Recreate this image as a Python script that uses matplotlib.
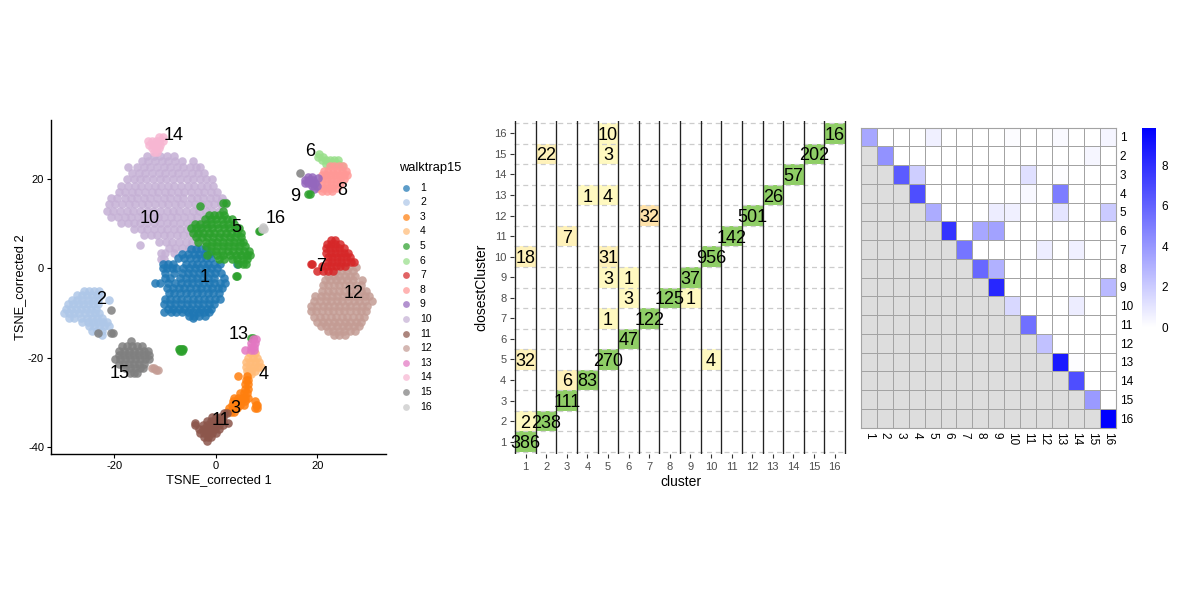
"""
Recria a figura: TSNE por cluster, tabela closestCluster x cluster e heatmap.
"""

import matplotlib
matplotlib.use('Agg')
import matplotlib.pyplot as plt
import numpy as np
from matplotlib.colors import LinearSegmentedColormap

plt.rcParams['font.family'] = ['Liberation Sans', 'DejaVu Sans']
plt.rcParams['axes.unicode_minus'] = False

# ── Dados do TSNE: (y, [x, x, ...]) ────────────────────────────
C10 = [
    (25.3, [-13.5, -12.2, -11, -9.7, -8.2]),
    (24.1, [-14.6, -13.3, -12, -10.6, -9.4, -8, -6.6, -4.6]),
    (22.8, [-17.3, -15.6, -14.2, -12.9, -11.7, -10.3, -9, -7.7, -6.4, -5.2, -3.9, -3.1]),
    (21.4, [-16.6, -15.2, -14, -12.6, -11.3, -10, -8.7, -7.4, -6.1, -4.8, -3.5, -2.4]),
    (20, [-17.6, -16.2, -15, -13.7, -12.4, -11, -9.8, -8.4, -7.1, -5.8, -4.5, -3.2, -2, -0.8]),
    (18.6, [-18.7, -17.3, -16, -14.7, -13.4, -12.1, -10.8, -9.5, -8.2, -6.9, -5.6, -4.3, -3, -1.7, -0.6]),
    (17.2, [-19.2, -17.9, -16.6, -15.3, -14, -12.7, -11.4, -10.1, -8.8, -7.5, -6.2, -4.9, -3.6, -2.3, -1, 0.2]),
    (15.8, [-20.6, -19.4, -18, -16.8, -15.5, -14.1, -12.9, -11.6, -10.2, -9, -7.7, -6.4, -5, -3.8, -2.5, -1.2, 0, 1.2]),
    (14.4, [-21.1, -19.8, -18.5, -17.2, -15.9, -14.6, -13.3, -12, -10.7, -9.4, -8.1, -6.8, -5.5, -4.2, -2.9, -1.6, -0.3, 1, 1.8]),
    (13, [-21.4, -20.2, -18.9, -17.5, -16.3, -15, -13.6, -12.4, -11.1, -9.7, -8.5, -7.2, -5.9, -4.6, -3.3, -2, -0.7, 0.6]),
    (11.6, [-20.6, -19.3, -18, -16.7, -15.4, -14.1, -12.8, -11.5, -10.2, -8.9, -7.6, -6.3, -5, -3.7, -2.4, -1.1]),
    (10.2, [-18.8, -17.4, -16.2, -14.9, -13.5, -12.3, -11, -9.6, -8.4, -7.1, -5.8, -4.5, -3.2, -2]),
    (8.8, [-16.2, -14.8, -13.5, -12.2, -10.9, -9.6, -8.3, -7, -5.7, -4.4, -3.1]),
    (7.4, [-14.2, -12.8, -11.6, -10.2, -9, -7.7, -6.4, -5.1, -3.8]),
    (6, [-11.2, -9.9, -8.6, -7.3, -6, -4.7, -3.4]),
    (4.7, [-9.2, -8, -6.6, -5.4, -4.1]),
    (5.2, [-14.9]),
    (3.4, [-10.9, -10, -8.2]),
    (2.2, [-10.9, -10.3]),
    (14.8, [0.9, 1.7]),
]
C1 = [
    (4.3, [-5, -4, -3, -2]),
    (3.3, [-6.6, -5.5, -4.4, -3.3, -2.2, -1.4]),
    (2.3, [-7.4, -6.2, -5.2, -4, -3, -1.9, -0.9]),
    (1.0, [-10.4, -9.4, -8.4, -5.9, -4.8, -3.7, -2.6, -1.5, -0.4, 0.8, 4.2]),
    (0.0, [-10.5, -9.6, -8.7, -7.9, -6.4, -5.3, -4.2, -3.1, -2, -0.9, 0.2]),
    (-1.1, [-10.1, -8.2, -6.7, -5.6, -4.5, -3.4, -2.3, -1.2, -0.1, 0.9]),
    (-2.2, [-10, -9, -7, -5.9, -4.8, -3.7, -2.6, -1.5, -0.4, 1.6]),
    (-3.2, [-12, -11, -9.5, -8, -6.9, -5.8, -4.7, -3.6, -2.5, -1.4, -0.3, 0.8, 1.8]),
    (-4.4, [-9.6, -8.4, -7.3, -6.2, -5.1, -4, -2.9, -1.8, -0.7, 0.4, 1.2]),
    (-5.6, [-9.3, -8.2, -7.1, -6, -4.9, -3.8, -2.7, -1.6, -0.5, 0.6]),
    (-6.8, [-10.1, -9, -7.9, -6.8, -5.7, -4.6, -3.5, -2.4, -1.3, -0.2, 0.7]),
    (-8.0, [-10.2, -9.1, -8, -6.9, -5.8, -4.7, -3.6, -2.5, -1.4, -0.4]),
    (-9.1, [-9.5, -8.4, -7.3, -6.2, -5.1, -4, -2.9, -1.8, -0.9]),
    (-9.8, [-10.2, -8.9, -7.8, -6.7, -5.6, -4.5, -3.4, -2.3, -1.4]),
    (-10.6, [-5.4, -4.4, -3.3, -2.2]),
    (-11.0, [-4.6]),
]
C5 = [
    (14.7, [1.3, 1.9]),
    (14.0, [-3.2]),
    (12.8, [1.3]),
    (12.1, [-1.4, -0.4, 0.5, 1.6]),
    (11.0, [-2.1, -1, 0, 1.1, 2.2, 3.1]),
    (10.0, [-4.2, -3.1, -2, -0.9, 0.2, 1.3, 2.4, 3.6]),
    (9.0, [-5, -4, -2.9, -1.8, -0.7, 0.4, 1.5, 2.6, 3.7, 4.5]),
    (8.0, [-4.6, -3.6, -2.5, -1.4, -0.3, 0.8, 1.9, 3, 4.1, 5]),
    (7.0, [-3.9, -2.8, -1.7, -0.6, 0.5, 1.6, 2.7, 3.8, 4.9]),
    (6.0, [-3.6, -1.9, -0.8, 0.3, 1.4, 2.5, 3.6, 4.7, 5.4]),
    (5.0, [-2, -0.9, 0.2, 1.3, 2.4, 3.5, 4.6, 5.8]),
    (4.0, [-1, 0.1, 1.2, 2.3, 3.4, 4.5, 5.6, 6.6]),
    (3.0, [-1.8, 0.2, 1.3, 2.8, 3.9, 5, 6.1, 6.8]),
    (2.1, [0.6, 1.5, 3.1, 4.2, 5.3, 6.2]),
    (1.1, [4.4, 5.3, 6]),
    (-1.6, [4, 4.2]),
    (8.5, [8.4, 8.7]),
    (16.8, [18.2, 18.6]),
    (-15.6, [6.9, 7.3]),
    (-18.0, [-7.3, -7, -6.7, -6.4]),
    (-18.6, [-7, -6.7]),
]
C12 = [
    (0.4, [25.2, 26.3, 27.5]),
    (-0.6, [23.6, 24.7, 25.8, 26.9]),
    (-1.7, [22.1, 23.2, 24.3, 25.4, 26.5, 27.4]),
    (-2.6, [21.4, 22.5, 23.6, 24.7, 25.8, 26.9, 28.7]),
    (-3.8, [21, 22.1, 23.2, 24.3, 25.4, 26.5, 27.6, 28.6]),
    (-5.0, [20.9, 22, 23.1, 24.2, 25.3, 26.4, 27.5, 28.6, 29.6]),
    (-6.2, [19.5, 20.6, 21.7, 22.8, 23.9, 25, 26.1, 27.2, 28.3, 29.4, 30.2]),
    (-7.4, [19.4, 20.5, 21.6, 22.7, 23.8, 24.9, 26, 27.1, 28.2, 29.3, 30.7]),
    (-8.5, [18.8, 19.9, 21, 22.1, 23.2, 24.3, 25.4, 26.5, 27.6, 28.7, 29.8]),
    (-9.6, [18.7, 19.8, 20.9, 22, 23.1, 24.2, 25.3, 26.4, 27.5, 28.6, 29.5]),
    (-10.8, [19.3, 20.4, 21.5, 22.6, 23.7, 24.8, 25.9, 27, 28.1, 29.1]),
    (-12.0, [19.9, 21, 22.1, 23.2, 24.3, 25.4, 26.5, 27.6, 28.6]),
    (-13.0, [20.6, 21.7, 22.8, 23.9, 25, 26.1, 27.2, 28.2]),
    (-14.0, [22, 23.1, 24.2, 25.3, 26.4, 27.3]),
    (-14.9, [23.2, 24.3, 25.4]),
    (-22.3, [-12.6, -12.2]),
    (-22.7, [-11.9, -11.5]),
]
C2 = [
    (-5.0, [-26, -25, -24, -23]),
    (-6.0, [-27.4, -26.4, -25.4, -24.4, -23.4, -22.6]),
    (-7.0, [-28.3, -27.3, -26.3, -25.3, -24.3, -23.3, -21]),
    (-8.0, [-29.2, -28.2, -27.2, -26.2, -25.2, -24.2, -23.2]),
    (-9.0, [-29.6, -28.6, -27.6, -26.6, -25.6, -24.6, -23.6]),
    (-9.9, [-29.9, -28.9, -27.9, -26.9, -25.9, -24.9, -23.9, -23]),
    (-11.0, [-28.9, -27.9, -26.5, -25.5, -24.5, -23.5, -22.5]),
    (-12.0, [-26.3, -25.2, -24.2, -23.2, -22.2, -21.4]),
    (-13.0, [-25, -24, -23, -22, -21]),
    (-14.0, [-24.4, -23.4, -22.4]),
    (-15.0, [-22.4]),
]
C15 = [
    (-16.2, [-16.8]),
    (-17.4, [-18.6, -17.6, -16.6, -15.6, -14.6]),
    (-18.4, [-19.2, -18.2, -17.2, -16.2, -15.2, -14.2, -13.4]),
    (-19.4, [-19.2, -18.2, -17.2, -16.2, -15.2, -14.2, -13.2]),
    (-20.4, [-19.9, -18.9, -17.9, -16.9, -15.9, -14.9, -13.9, -13.2]),
    (-21.4, [-19.2, -18.2, -17.2, -16.2, -15.2, -14.2]),
    (-22.4, [-18, -17, -16, -15, -14.4]),
    (-23.4, [-17, -16.2, -15.6]),
    (-14.5, [-23.2, -20.6, -20.2]),
    (-9.3, [-20.7]),
    (21.4, [16.6]),
]
C7 = [
    (6.4, [22.6, 23.4]),
    (5.5, [21.8, 22.6, 23.5, 24.4]),
    (4.5, [21.6, 22.5, 23.4, 24.3, 25.2]),
    (3.5, [21.7, 22.6, 23.5, 24.4, 25.3, 26]),
    (2.5, [22, 22.9, 23.8, 24.7, 25.6, 26.4]),
    (1.5, [22, 22.9, 23.8, 24.7, 25.6, 26.6, 27.1]),
    (0.5, [20.8, 21.8, 22.7, 23.6, 24.5, 25.4]),
    (-0.5, [20, 21, 22, 23]),
    (1.0, [18.7, 19]),
]
C8 = [
    (22.9, [22.4, 23.3, 24.2, 25]),
    (21.9, [21.2, 22.1, 23, 23.9, 24.8, 25.6]),
    (21.0, [20.8, 21.7, 22.6, 23.5, 24.4, 25.3, 25.8]),
    (20.0, [20.9, 21.8, 22.7, 23.6, 24.5, 25.2]),
    (19.0, [20.9, 21.8, 22.7, 23.6, 24.5]),
    (18.0, [20.2, 21.1, 22, 22.9, 23.8]),
    (17.3, [20.8, 21.8, 22.8]),
]
C6 = [
    (25.7, [20.3]),
    (25.0, [20.2, 21]),
    (24.3, [20.8, 21.7, 22.5, 23.3, 24]),
    (23.4, [21.6, 22.5, 23.3, 24]),
    (23.0, [24.9]),
]
C9 = [
    (20.5, [18.2, 18.9]),
    (19.8, [17.6, 18.4, 19.2]),
    (19.1, [17.5, 18.2, 18.9, 19.5]),
    (20.2, [20.2]),
    (18.4, [19.9, 19]),
    (17.8, [19.4]),
]
C14 = [
    (29.4, [-11.2, -10.4]),
    (28.6, [-13.3, -12.6, -11.9, -11.2, -10.5]),
    (27.8, [-13.1, -12.4, -11.7, -11]),
    (27.0, [-12.6, -11.9, -11.2]),
    (26.2, [-12.3, -11.6]),
]
C16 = [
    (9.3, [9.3]),
    (8.8, [9.1, 9.4]),
]
C13 = [
    (-15.9, [7.2, 7.8]),
    (-16.7, [7, 7.6]),
    (-17.5, [6.9, 7.5]),
    (-18.2, [6.9, 7.4, 5.8]),
]
C4 = [
    (-19.0, [6.8, 7.6]),
    (-20.0, [6.4, 7.2, 8]),
    (-21.0, [6, 6.8, 7.6, 8.4]),
    (-22.0, [5.9, 6.7, 7.5, 8.3, 8.8]),
    (-23.0, [6.1, 6.9, 7.6]),
    (-23.7, [6.3, 7]),
]
C3 = [
    (-24.0, [4.4, 6.2]),
    (-25.0, [6, 6.4]),
    (-26.0, [5.8, 6.3]),
    (-27.0, [5.7, 6.3]),
    (-28.0, [4.8, 5.5, 6.2]),
    (-29.0, [3.6, 4.4, 5.1, 5.8, 6.4]),
    (-29.8, [3.4, 4.2, 5, 5.8, 7.6]),
    (-30.5, [3.2, 4, 4.8, 5.5, 7.8, 8]),
    (-31.3, [2.6, 3.4, 4.2, 7.6, 8]),
    (-32.2, [2.2, 2.9, 3.5]),
]
C11 = [
    (-32.5, [1.6, 2.2]),
    (-33.3, [-0.8, 0, 0.7, 1.4]),
    (-34.2, [-1.8, -1, -0.2, 0.6, 1.4]),
    (-34.7, [-4.2, 2.3]),
    (-35.2, [-4.2, -2.6, -1.8, -1, -0.2, 0.6, 1.3]),
    (-36.1, [-3.4, -2.6, -1.8, -1, -0.2, 0.6]),
    (-37.0, [-3.2, -2.4, -1.6, -0.8, 0]),
    (-37.8, [-2.4, -1.6, -0.9]),
    (-38.6, [-1.7]),
]
# cor de cada grupo na ordem de desenho (a ordem não é a da legenda)
SCATTER_LAYERS = [(C10, 10), (C12, 12), (C2, 2), (C15, 15), (C6, 6), (C8, 8), (C9, 9),
                  (C14, 14), (C1, 1), (C5, 5), (C7, 7), (C4, 4), (C3, 3), (C11, 11),
                  (C13, 13), (C16, 16)]

CLUSTER_LABELS = list(range(1, 17))
LABEL_X = [-2.2, -22.7, 3.8, 9.3, 4.1, 18.6, 20.7, 24.9, 15.6, -13, 0.9, 27.2, 4.5, -8.4, -18.9, 11.8]
LABEL_Y = [-1.6, -6.6, -30.9, -23.4, 9.6, 26.7, 0.8, 18, 16.7, 11.6, -33.7, -5.1, -14.3, 30.3, -23, 11.6]
COLORS = ['#1f77b4', '#aec7e8', '#ff7f0e', '#ffbb78', '#2ca02c', '#98df8a', '#d62728', '#ff9896',
          '#9467bd', '#c5b0d5', '#8c564b', '#c49c94', '#e377c2', '#f7b6d2', '#7f7f7f', '#c7c7c7']

# ── Tabela closestCluster x cluster ────────────────────────────
TILE_CLUSTER = [1, 1, 2, 3, 3, 4, 5, 1, 10, 6, 7, 5, 8, 6, 9, 9, 6, 5, 10, 1, 5, 11, 3, 12, 7,
                13, 4, 5, 14, 15, 2, 5, 16, 5]
TILE_CLOSEST = [1, 2, 2, 3, 4, 4, 5, 5, 5, 6, 7, 7, 8, 8, 8, 9, 9, 9, 10, 10, 10, 11, 11, 12, 12,
                13, 13, 13, 14, 15, 15, 15, 16, 16]
TILE_COUNT = [386, 2, 238, 111, 6, 83, 270, 32, 4, 47, 122, 1, 125, 3, 1, 37, 1, 3, 956, 18, 31,
              142, 7, 501, 32, 26, 1, 4, 57, 202, 22, 3, 16, 10]
TILE_KIND = ['g', 'y', 'g', 'g', 'm', 'g', 'g', 'm', 'y', 'g', 'g', 'y', 'g', 'y', 'y', 'g', 'y', 'y',
             'g', 'm', 'm', 'g', 'm', 'g', 'o', 'g', 'y', 'y', 'g', 'g', 'm', 'y', 'g', 'y']
TILE_COLORS = {'g': '#8fce66', 'y': '#fff9c0', 'm': '#fff2ba', 'o': '#ffe3ab'}

# ── Heatmap (triângulo superior) ───────────────────────────────
HEAT_ROWS = [
    [3.4, 0, 0, 0, 0.6, 0, 0, 0, 0, 0.15, 0, 0, 0.2, 0, 0, 0.4],
    [4.2, 0, 0, 0, 0, 0, 0, 0, 0, 0, 0, 0, 0, 0.35, 0],
    [6.3, 1.9, 0, 0, 0, 0, 0, 0, 1.2, 0, 0.1, 0, 0, 0],
    [6.8, 0, 0, 0, 0, 0, 0, 0.3, 0, 5.0, 0, 0, 0],
    [3.2, 0, 0, 0, 0.7, 0.6, 0, 0, 1.0, 0, 0, 2.0],
    [7.8, 0, 3.4, 3.6, 0, 0, 0, 0, 0, 0, 0],
    [5.3, 0, 0, 0, 0, 0.7, 0, 0.6, 0, 0],
    [5.8, 3.0, 0, 0, 0, 0, 0, 0, 0],
    [8.3, 0, 0, 0, 0, 0, 0, 2.7],
    [1.5, 0, 0, 0, 0.7, 0, 0],
    [5.5, 0, 0, 0, 0, 0],
    [2.4, 0, 0, 0, 0],
    [8.8, 0.1, 0, 0],
    [6.8, 0, 0],
    [3.9, 0],
    [9.83],
]
COLORBAR_TICKS = [0, 2, 4, 6, 8]
# ───────────────────────────────────────────────────────────────

W, H = 1196, 610


def px_axes(fig, left, top, right, bottom):
    """Cria um eixo a partir de uma caixa em pixels."""
    return fig.add_axes([left / W, 1 - bottom / H, (right - left) / W, (bottom - top) / H])


def expand(rows):
    """Abre as linhas (y, [x...]) em dois arrays."""
    xs = [x for y, row in rows for x in row]
    ys = [y for y, row in rows for x in row]
    return xs, ys


fig = plt.figure(figsize=(W / 100, H / 100), dpi=100)

# Painel 1: TSNE
ax = px_axes(fig, 51, 120, 386, 454)
for rows, cl in SCATTER_LAYERS:
    xs, ys = expand(rows)
    ax.scatter(xs, ys, s=38, color=COLORS[cl - 1], alpha=0.85, linewidths=0)
for lab, x, y in zip(CLUSTER_LABELS, LABEL_X, LABEL_Y):
    ax.text(x, y, str(lab), fontsize=13, ha='center', va='center_baseline', color='black')
ax.set_xlim(-32.5, 33.5)
ax.set_ylim(-41.6, 33.3)
ax.set_xticks([-20, 0, 20])
ax.set_yticks([-40, -20, 0, 20])
ax.tick_params(labelsize=8, length=3, width=0.8, pad=2)
ax.set_xlabel('TSNE_corrected 1', fontsize=9.3, labelpad=2.5)
ax.set_ylabel('TSNE_corrected 2', fontsize=9.3, labelpad=1)
for side in ['top', 'right']:
    ax.spines[side].set_visible(False)
for side in ['left', 'bottom']:
    ax.spines[side].set_linewidth(1.0)

# Legenda feita à mão em pixels, como no original
leg = px_axes(fig, 392, 155, 470, 420)
leg.set_xlim(392, 470)
leg.set_ylim(420, 155)
leg.axis('off')
leg.text(399, 168, 'walktrap15', fontsize=9.3, va='center', ha='left')
for i, lab in enumerate(CLUSTER_LABELS):
    ky = 187.7 + i * 14.6
    leg.scatter([405.7], [ky], s=24, color=COLORS[i], alpha=0.72, linewidths=0)
    leg.text(420, ky, str(lab), fontsize=7.5, va='center', ha='left')

# Painel 2: tabela
ax2 = px_axes(fig, 514, 121, 847, 454)
for cl, near, n, kind in zip(TILE_CLUSTER, TILE_CLOSEST, TILE_COUNT, TILE_KIND):
    ax2.add_patch(plt.Rectangle((cl - 0.5, near - 0.5), 1, 1, color=TILE_COLORS[kind], lw=0, zorder=1))
for v in np.arange(0.5, 17):
    ax2.axhline(v, color='#cccccc', lw=0.9, ls=(0, (4, 3)), zorder=2)
    ax2.axvline(v, color='#222222', lw=0.95, zorder=3)
for cl, near, n in zip(TILE_CLUSTER, TILE_CLOSEST, TILE_COUNT):
    ax2.text(cl, near, str(n), fontsize=13, ha='center', va='center_baseline', color='black', zorder=4)
ax2.set_xlim(0.44, 16.6)
ax2.set_ylim(0.4, 16.6)
ax2.set_xticks(CLUSTER_LABELS)
ax2.set_yticks(CLUSTER_LABELS)
ax2.tick_params(labelsize=8, length=3, width=0.8, pad=2.5, color='#333333', labelcolor='#4d4d4d')
ax2.set_xlabel('cluster', fontsize=10, labelpad=2.5)
ax2.set_ylabel('closestCluster', fontsize=10, labelpad=4)
for side in ax2.spines:
    ax2.spines[side].set_visible(False)

# Painel 3: heatmap
cmap = LinearSegmentedColormap.from_list('wb', ['white', '#0000ff'])
cmap.set_bad('#dddddd')
heat = np.full((16, 16), np.nan)
for i, row in enumerate(HEAT_ROWS):
    heat[i, i:] = row
ax3 = px_axes(fig, 861, 127.5, 1115.5, 427.5)
mesh = ax3.pcolormesh(np.arange(17), np.arange(17), np.ma.masked_invalid(heat), cmap=cmap,
                      vmin=0, vmax=9.83, edgecolors='#a3a3a3', linewidth=0.7)
ax3.set_xlim(0, 16)
ax3.set_ylim(16, 0)
ax3.set_xticks(np.arange(16) + 0.5, CLUSTER_LABELS, rotation=270, fontsize=8.5)
ax3.yaxis.tick_right()
ax3.set_yticks(np.arange(16) + 0.5, CLUSTER_LABELS, fontsize=8.5)
ax3.tick_params(length=0, pad=3)
for side in ax3.spines:
    ax3.spines[side].set_color('#a3a3a3')

# Barra de cores
cax = px_axes(fig, 1142, 128, 1156, 327)
cax.imshow(np.linspace(9.83, 0, 256).reshape(-1, 1), cmap=cmap, vmin=0, vmax=9.83, aspect='auto',
           extent=[0, 1, 0, 9.83])
cax.set_xticks([])
cax.yaxis.tick_right()
cax.set_yticks(COLORBAR_TICKS)
cax.tick_params(length=0, labelsize=8.5, pad=4)
for side in cax.spines:
    cax.spines[side].set_visible(False)

fig.savefig('out.png', dpi=100)
